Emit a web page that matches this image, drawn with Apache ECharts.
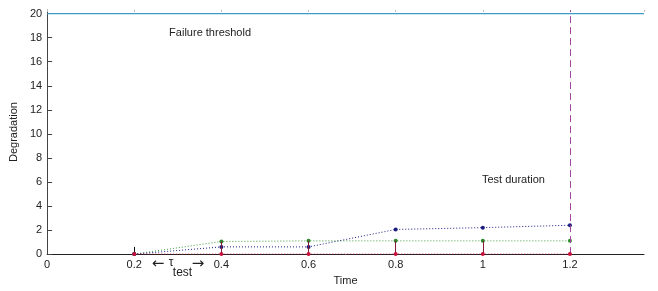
<!DOCTYPE html>
<html>
<head>
<meta charset="utf-8">
<style>
html,body{margin:0;padding:0;background:#fff;}
#main{width:658px;height:291px;}
</style>
<script src="https://cdn.jsdelivr.net/npm/echarts@6/dist/echarts.min.js"></script>
</head>
<body>
<div id="main"></div>
<script>
// test times and measured degradation of three units
var times = [0.2, 0.4, 0.6, 0.8, 1.0, 1.2];
var blueVals = [0, 0.6, 0.6, 2.05, 2.2, 2.4];
var greenVals = [0, 1.05, 1.1, 1.1, 1.1, 1.1];
var redVals = [0, 0, 0, 0, 0, 0];
// vertical stems at inspection times
var stemTimes = [0.4, 0.6, 0.8, 1.0];
var stemTops = [1.05, 1.1, 1.1, 1.1];
var threshold = 20;
var testDuration = 1.2;
var xTicks = [0, 0.2, 0.4, 0.6, 0.8, 1, 1.2];
var yTicks = [0, 2, 4, 6, 8, 10, 12, 14, 16, 18, 20];

var font = 'Liberation Sans, Arial, sans-serif';

function pairs(xs, ys) {
	var out = [];
	for (var i = 0; i < xs.length; i++) out.push([xs[i], ys[i]]);
	return out;
}

var stemLines = [];
for (var i = 0; i < stemTimes.length; i++) {
	stemLines.push([{coord: [stemTimes[i], 0]}, {coord: [stemTimes[i], stemTops[i]]}]);
}

var chart = echarts.init(document.getElementById('main'));

var option = {
	animation: false,
	backgroundColor: '#fff',
	grid: {
		left: 43,
		right: 14,
		top: 10,
		bottom: 33
	},
	xAxis: [{
		type: 'value',
		min: 0,
		max: 1.37,
		interval: 0.2,
		name: 'Time',
		nameLocation: 'middle',
		nameGap: 17,
		nameTextStyle: {fontFamily: font, fontSize: 11, color: '#222'},
		axisLine: {show: true, onZero: false, lineStyle: {color: '#222', width: 1}},
		axisTick: {show: false},
		splitLine: {show: false},
		axisLabel: {
			show: true,
			color: '#222',
			fontFamily: font,
			fontSize: 11,
			margin: 5,
			showMaxLabel: false,
			formatter: function (v) {
				for (var k = 0; k < xTicks.length; k++) {
					if (Math.abs(xTicks[k] - v) < 1e-6) return String(xTicks[k]);
				}
				return '';
			}
		}
	}, {
		type: 'value',
		position: 'top',
		min: 0,
		max: 1.37,
		interval: 0.2,
		axisLine: {show: false, onZero: false},
		axisTick: {show: true, inside: true, length: 2, lineStyle: {color: '#bbb'}},
		axisLabel: {show: false},
		splitLine: {show: false}
	}],
	yAxis: [{
		type: 'value',
		min: 0,
		max: 20.3,
		interval: 2,
		name: 'Degradation',
		nameLocation: 'middle',
		nameGap: 22,
		nameTextStyle: {fontFamily: font, fontSize: 11, color: '#222'},
		axisLine: {show: true, lineStyle: {color: '#444', width: 1}},
		axisTick: {show: true, inside: true, length: 5, lineStyle: {color: '#444'}},
		splitLine: {show: false},
		axisLabel: {
			color: '#222',
			fontFamily: font,
			fontSize: 11,
			margin: 5,
			showMaxLabel: false,
			formatter: function (v) {
				return yTicks.indexOf(v) >= 0 ? String(v) : '';
			}
		}
	}],
	series: [
		{
			name: 'Failure threshold',
			type: 'line',
			data: [[0, threshold], [1.37, threshold]],
			symbol: 'none',
			z: 6,
			lineStyle: {color: '#3f9cc6', width: 1.3},
			markLine: {
				silent: true,
				symbol: 'none',
				label: {show: false},
				lineStyle: {color: '#a0489e', width: 1, type: [7, 4]},
				data: [[{coord: [testDuration, 0]}, {coord: [testDuration, 20.3]}]]
			}
		},
		{
			name: 'unit3',
			type: 'line',
			data: pairs(times, redVals),
			symbol: 'circle',
			symbolSize: 4,
			itemStyle: {color: '#c8103a'},
			lineStyle: {color: '#c8103a', width: 1, type: [1, 2]},
			z: 5,
			markLine: {
				silent: true,
				symbol: 'none',
				label: {show: false},
				lineStyle: {color: '#8a1a3a', width: 1, type: 'solid'},
				data: stemLines
			}
		},
		{
			name: 'unit2',
			type: 'line',
			data: pairs(times, greenVals),
			symbol: 'circle',
			symbolSize: 4,
			itemStyle: {color: '#2d8a2d'},
			lineStyle: {color: '#3d9a3d', width: 1, type: [1, 2]},
			z: 4
		},
		{
			name: 'unit1',
			type: 'line',
			data: pairs(times, blueVals),
			symbol: 'circle',
			symbolSize: 4,
			itemStyle: {color: '#1c1c80'},
			lineStyle: {color: '#1c1c80', width: 1, type: [1, 2]},
			z: 4,
			markLine: {
				silent: true,
				symbol: ['none', 'arrow'],
				symbolSize: [0, 5],
				label: {show: false},
				lineStyle: {color: '#111', width: 1, type: 'solid'},
				data: [[{coord: [0.2, 0.6]}, {coord: [0.2, 0]}]]
			}
		}
	]
};

chart.setOption(option);

// annotations placed through the axes
var pFail = chart.convertToPixel({gridIndex: 0}, [0.28, 18.4]);
var pDur = chart.convertToPixel({gridIndex: 0}, [0.998, 6.2]);
var pTau = chart.convertToPixel({gridIndex: 0}, [0.3, 0]);
var txt = {fontFamily: font, fontSize: 11, fill: '#222'};
var sub = {fontFamily: font, fontSize: 12, fill: '#222'};
var arr = {fontFamily: 'DejaVu Sans, sans-serif', fontSize: 15, fill: '#222'};

chart.setOption({
	graphic: [
		{type: 'text', x: pFail[0], y: pFail[1], style: Object.assign({text: 'Failure threshold', verticalAlign: 'middle'}, txt)},
		{type: 'text', x: pDur[0], y: pDur[1], style: Object.assign({text: 'Test duration', verticalAlign: 'middle'}, txt)},
		{type: 'text', x: pTau[0] - 26, y: pTau[1] + 10, style: Object.assign({text: '\u2190', verticalAlign: 'middle'}, arr)},
		{type: 'text', x: pTau[0] - 9, y: pTau[1] + 9, style: Object.assign({text: '\u03c4', verticalAlign: 'middle'}, sub)},
		{type: 'text', x: pTau[0] - 5, y: pTau[1] + 19, style: Object.assign({text: 'test', verticalAlign: 'middle'}, sub)},
		{type: 'text', x: pTau[0] + 14, y: pTau[1] + 10, style: Object.assign({text: '\u2192', verticalAlign: 'middle'}, arr)}
	]
});
</script>
</body>
</html>
